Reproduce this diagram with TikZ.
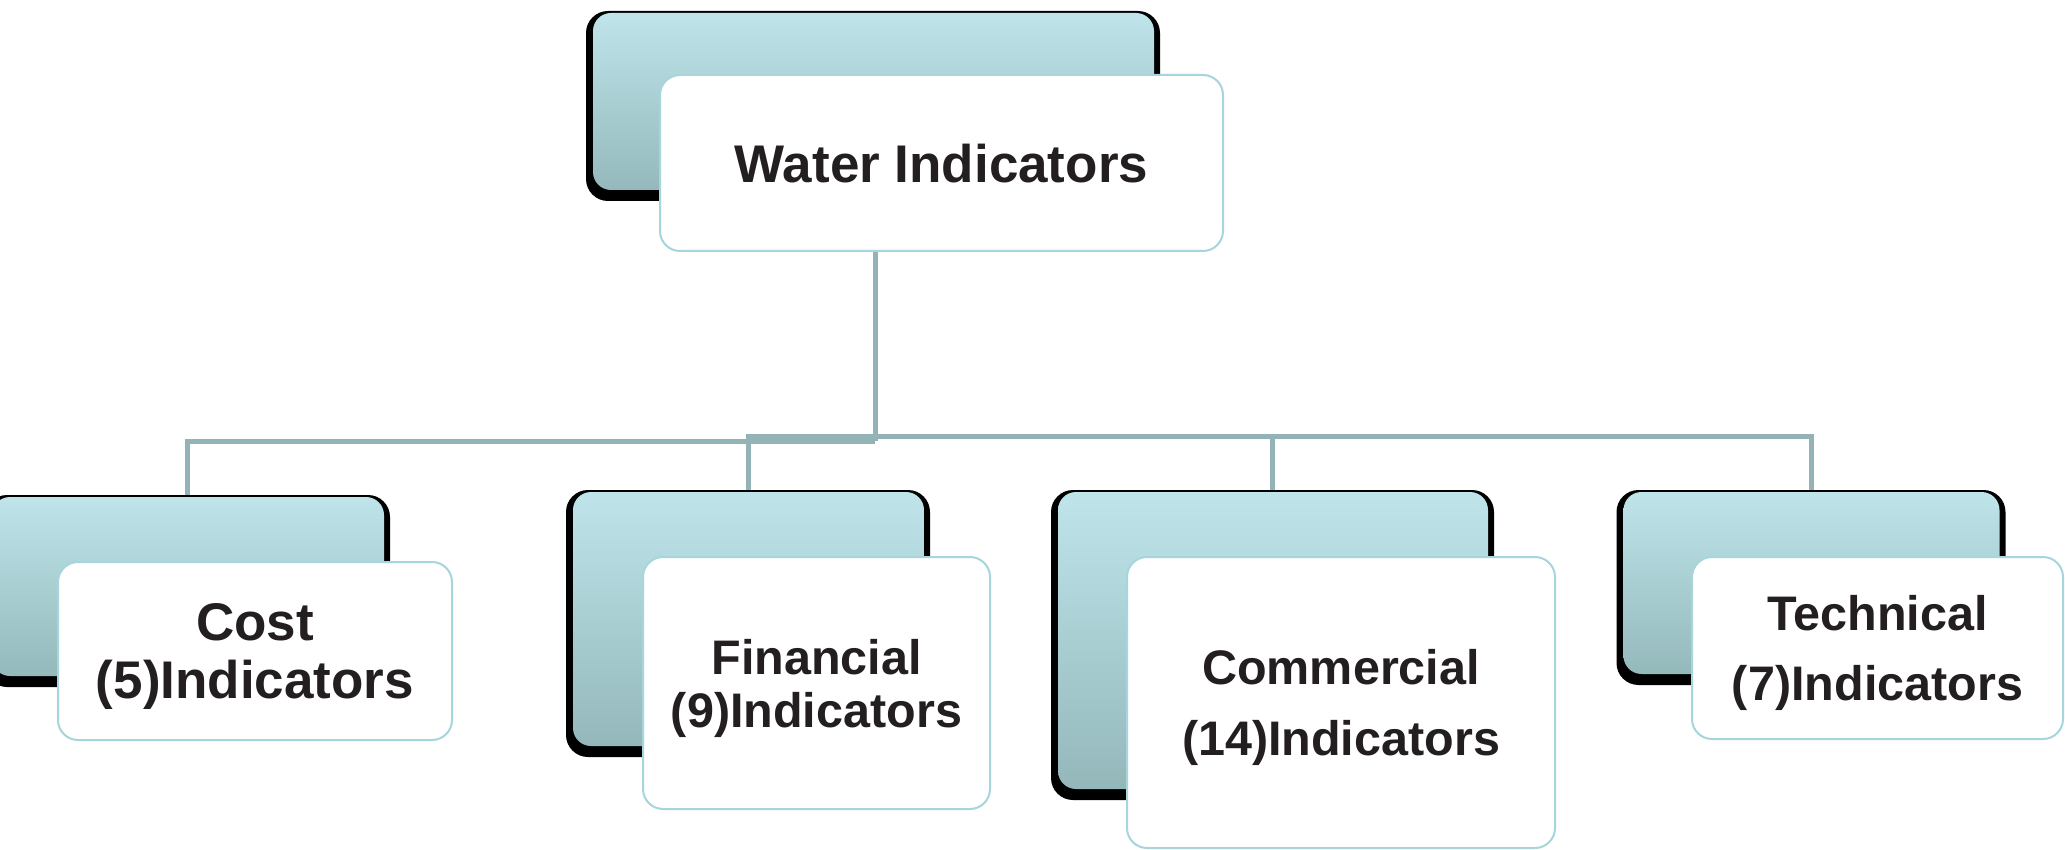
\documentclass[tikz,border=0pt]{standalone}
\usepackage{fontspec}
\setmainfont{Liberation Sans}
\definecolor{bartop}{HTML}{BFE5EB}
\definecolor{barbot}{HTML}{92B6B8}
\definecolor{frontline}{HTML}{A6D6DC}
\definecolor{connc}{HTML}{93B3B7}
\definecolor{txt}{HTML}{231F20}
\tikzset{
  backbox/.style={fill=black, draw=none, rounded corners=22pt, inner sep=0pt,
    path picture={
      \shade[top color=bartop, middle color=bartop!75!barbot, bottom color=barbot, rounded corners=18pt]
        ([shift={(7,2)}]path picture bounding box.north west) rectangle
        ([shift={(-6,-11)}]path picture bounding box.south east);
    }},
  frontbox/.style={draw=frontline, line width=2pt, fill=white, rounded corners=20pt,
    align=center, inner sep=0pt, text=txt, text depth=0pt},
  txtsize/.style 2 args={font=\fontsize{#1}{#2}\selectfont\bfseries},
  connector/.style={draw=connc, line width=5pt}
}
\begin{document}
\begin{tikzpicture}[x=1pt,y=-1pt]
\useasboundingbox (0,0) rectangle (2065,850);
\clip (0,0) rectangle (2065,850);
\fill[white] (0,0) rectangle (2065,850);

% back boxes
\node[backbox, minimum width=574pt, minimum height=190pt] (topback) at (873,106) {};
\node[backbox, minimum width=405pt, minimum height=192pt] (costback) at (187.5,591) {};
\node[backbox, minimum width=364pt, minimum height=267pt] (finback) at (748,623.5) {};
\node[backbox, minimum width=443pt, minimum height=310pt] (comback) at (1272.5,645) {};
\node[backbox, minimum width=389pt, minimum height=195pt] (techback) at (1811,587.5) {};

% front boxes
\node[frontbox, txtsize={53}{58}, minimum width=563pt, minimum height=176pt] (top) at (941.5,163) {Water Indicators};
\node[frontbox, txtsize={53}{58}, minimum width=394pt, minimum height=178pt] (cost) at (255,651) {Cost\\(5)Indicators};
\node[frontbox, txtsize={48.5}{53}, minimum width=347pt, minimum height=252pt] (fin) at (816.5,683) {Financial\\(9)Indicators};
\node[frontbox, txtsize={48.5}{71}, minimum width=428pt, minimum height=291pt] (com) at (1341,702.5) {Commercial\\(14)Indicators};
\node[frontbox, txtsize={48.5}{70}, minimum width=371pt, minimum height=182pt] (tech) at (1877.5,648) {Technical\\(7)Indicators};

% connectors
\coordinate (busA) at (875,441);
\coordinate (busB) at (748,436);
\draw[connector] (top.south -| busA) -- (busA);
\draw[connector] (busA) -| (costback.north);
\draw[connector] (finback.north) |- (busB) -| (techback.north);
\draw[connector] (comback.north) -- (comback.north |- busB);
\end{tikzpicture}
\end{document}
